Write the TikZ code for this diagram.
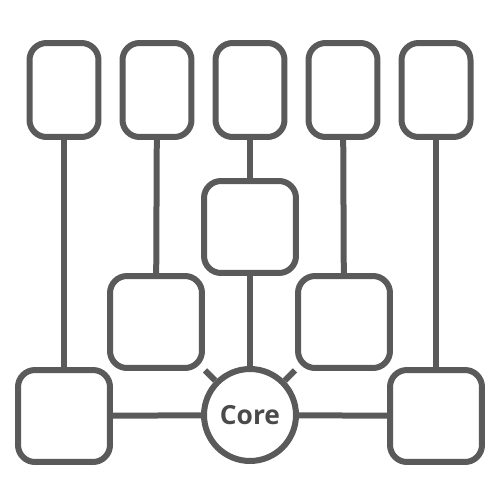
\documentclass[tikz,border=0pt]{standalone}
\usepackage{fontspec}
\setsansfont{Open Sans}
\usepackage{tikz}
\usetikzlibrary{backgrounds}
\definecolor{linegray}{HTML}{5A5A5A}
\definecolor{textgray}{HTML}{4A4A4A}
\tikzset{
  tallbox/.style={draw=linegray, line width=0.12cm, fill=white, rounded corners=0.34cm,
    minimum width=1.38cm, minimum height=1.88cm, inner sep=0pt},
  squarebox/.style={draw=linegray, line width=0.12cm, fill=white, rounded corners=0.34cm,
    minimum width=1.84cm, minimum height=1.84cm, inner sep=0pt},
  corenode/.style={circle, draw=linegray, line width=0.12cm, fill=white,
    minimum size=1.84cm, inner sep=0pt, text=textgray, font=\sffamily\bfseries\fontsize{15}{18}\selectfont},
  link/.style={draw=linegray, line width=0.12cm}
}

\begin{document}
\begin{tikzpicture}[x=0.02cm, y=-0.02cm]
        \useasboundingbox (0,0) rectangle (500,500);

        %top row
        \node[tallbox] (top1) at (64,90) {};
        \node[tallbox] (top2) at (157,90) {};
        \node[tallbox] (top3) at (250,90) {};
        \node[tallbox] (top4) at (343,90) {};
        \node[tallbox] (top5) at (436,90) {};

        %inner boxes
        \node[squarebox] (mid) at (250,227) {};
        \node[squarebox] (midleft) at (156,322) {};
        \node[squarebox] (midright) at (344,322) {};
        \node[squarebox] (lowleft) at (64,416) {};
        \node[squarebox] (lowright) at (436,416) {};

        %core
        \node[corenode] (core) at (250,415) {Core};

        %edges
        \begin{scope}[on background layer]
        \draw[link] (top1) -- (lowleft);
        \draw[link] (top2) -- (midleft);
        \draw[link] (top3) -- (mid);
        \draw[link] (top4) -- (midright);
        \draw[link] (top5) -- (lowright);
        \draw[link] (mid) -- (core);
        \draw[link] (midleft) -- (core);
        \draw[link] (midright) -- (core);
        \draw[link] (lowleft) -- (core);
        \draw[link] (core) -- (lowright);
        \end{scope}
\end{tikzpicture}
\end{document}
